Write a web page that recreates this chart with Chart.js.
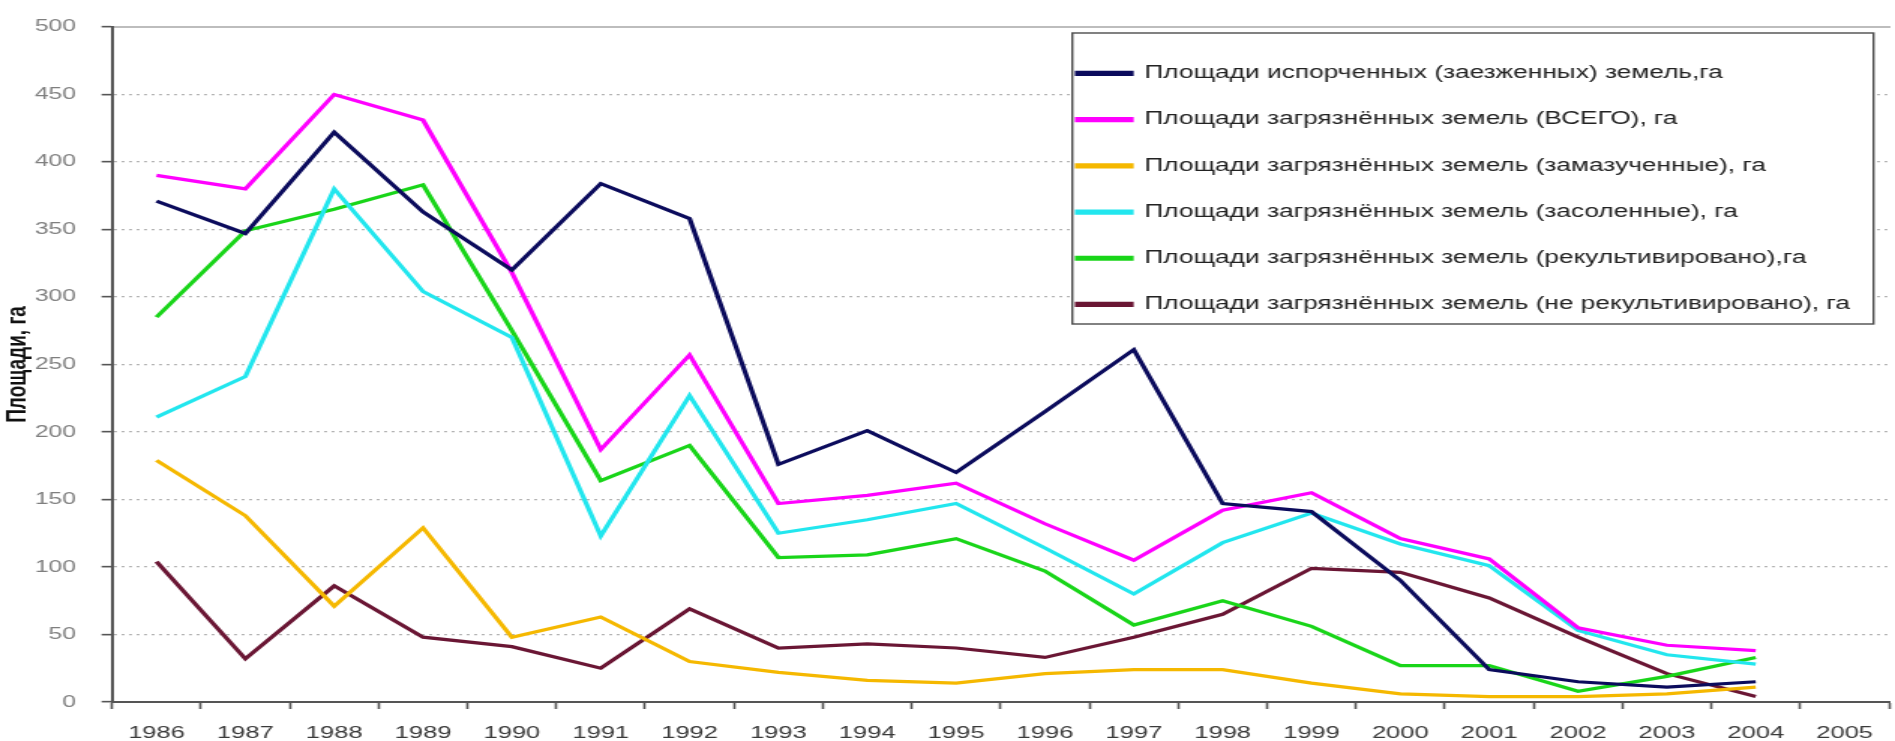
<!DOCTYPE html>
<html lang="ru">
<head>
<meta charset="utf-8">
<title>Площади земель, га</title>
<script src="https://cdn.jsdelivr.net/npm/chart.js@4.4.1/dist/chart.umd.min.js"></script>
<style>
  html, body { margin: 0; padding: 0; background: #fff; overflow: hidden; }
  #chart { display: block; }
</style>
</head>
<body>
<!-- the source picture is stretched sideways ~1.5x, so the canvas is drawn narrow and widened by CSS -->
<canvas id="chart" width="1263" height="741" style="width:1895px;height:741px"></canvas>
<script>
// =============================================================================
// Площади земель, 1986–2005, га
// =============================================================================

const YEARS = ['1986', '1987', '1988', '1989', '1990', '1991', '1992', '1993', '1994', '1995',
  '1996', '1997', '1998', '1999', '2000', '2001', '2002', '2003', '2004', '2005'];

const Y_MIN = 0;
const Y_MAX = 500;
const Y_STEP = 50;

// values per year, 1986..2004 (2005 has no data)
const SPOILED = [371, 347, 422, 363, 320, 384, 358, 176, 201, 170, 215, 261, 147, 141, 90, 24, 15, 11, 15];
const TOTAL = [390, 380, 450, 431, 318, 187, 257, 147, 153, 162, 132, 105, 142, 155, 121, 106, 55, 42, 38];
const OILED = [179, 138, 71, 129, 48, 63, 30, 22, 16, 14, 21, 24, 24, 14, 6, 4, 4, 6, 11];
const SALINE = [211, 241, 380, 304, 270, 123, 227, 125, 135, 147, 114, 80, 118, 140, 117, 101, 53, 35, 28];
const RECLAIMED = [285, 349, 365, 383, 275, 164, 190, 107, 109, 121, 97, 57, 75, 56, 27, 27, 8, 19, 33];
const NOT_RECLAIMED = [104, 32, 86, 48, 41, 25, 69, 40, 43, 40, 33, 48, 65, 99, 96, 77, 48, 21, 4];

const SERIES_LABELS = [
  'Площади испорченных (заезженных) земель,га',
  'Площади загрязнённых земель (ВСЕГО), га',
  'Площади загрязнённых земель (замазученные), га',
  'Площади загрязнённых земель (засоленные), га',
  'Площади загрязнённых земель (рекультивировано),га',
  'Площади загрязнённых земель (не рекультивировано), га',
];
const SERIES_DATA = [SPOILED, TOTAL, OILED, SALINE, RECLAIMED, NOT_RECLAIMED];
const SERIES_COLORS = ['#0b0b5c', '#ff00ff', '#f5b800', '#22e6ee', '#19d519', '#6a1634'];

const Y_TITLE = 'Площади, га';

// layout (canvas px, before the CSS stretch)
const LEGEND_POS = { left: 689.3, top: 36 };
const LEGEND_FRAME = { x: 714.7, y: 33, w: 534, h: 291 };

Chart.defaults.font.family = "'Liberation Sans', Arial, sans-serif";
Chart.defaults.color = '#333';

// legend sits inside the plot, top right, in a white framed box
const legendInPlot = {
  id: 'legendInPlot',
  afterLayout(chart) {
    const lg = chart.legend;
    if (!lg) return;
    lg.left = LEGEND_POS.left;
    lg.top = LEGEND_POS.top;
    lg.right = lg.left + lg.width;
    lg.bottom = chart.chartArea.bottom;
    if (lg._framed) return;
    const drawItems = lg.draw.bind(lg);
    lg.draw = function () {
      const ctx = chart.ctx;
      ctx.save();
      ctx.fillStyle = '#ffffff';
      ctx.fillRect(LEGEND_FRAME.x, LEGEND_FRAME.y, LEGEND_FRAME.w, LEGEND_FRAME.h);
      ctx.strokeStyle = '#4d4d4d';
      ctx.lineWidth = 1.4;
      ctx.strokeRect(LEGEND_FRAME.x, LEGEND_FRAME.y, LEGEND_FRAME.w, LEGEND_FRAME.h);
      ctx.restore();
      drawItems();
    };
    lg._framed = true;
  },
};

const datasets = SERIES_DATA.map((data, i) => ({
  label: SERIES_LABELS[i],
  data: data,
  borderColor: SERIES_COLORS[i],
  backgroundColor: SERIES_COLORS[i],
  borderWidth: 3.2,
  pointRadius: 0,
  pointHoverRadius: 0,
  tension: 0,
  fill: false,
}));

new Chart(document.getElementById('chart'), {
  type: 'line',
  data: { labels: YEARS, datasets },
  plugins: [legendInPlot],
  options: {
    responsive: false,
    devicePixelRatio: 1,
    animation: false,
    events: [],
    layout: { padding: { top: 21, right: 4, left: 0, bottom: 0 } },
    plugins: {
      legend: {
        position: 'chartArea',
        align: 'start',
        labels: {
          boxWidth: 36,
          boxHeight: 2,
          padding: 28.7,
          color: '#222',
          font: { size: 17.5 },
        },
      },
      tooltip: { enabled: false },
    },
    scales: {
      x: {
        type: 'category',
        offset: true,
        grid: {
          offset: true,
          drawOnChartArea: false,
          drawTicks: true,
          tickLength: 7,
          tickColor: '#555',
          tickWidth: 1.6,
        },
        border: { color: '#555', width: 2 },
        ticks: {
          color: '#3a3a3a',
          font: { size: 17 },
          padding: 14,
          maxRotation: 0,
          autoSkip: false,
        },
        afterFit: (s) => { s.height = 39; },
      },
      x2: {
        type: 'category',
        position: 'top',
        offset: true,
        grid: { drawOnChartArea: false, drawTicks: false },
        ticks: { display: false },
        border: { color: '#bdbdbd', width: 2 },
        afterFit: (s) => { s.height = 0; },
      },
      y: {
        min: Y_MIN,
        max: Y_MAX,
        ticks: {
          stepSize: Y_STEP,
          color: '#7f7f7f',
          font: { size: 16.5 },
          padding: 17,
        },
        grid: {
          color: '#b4b4b4',
          lineWidth: 1.3,
          tickColor: '#555',
          tickLength: 7,
          tickWidth: 1.6,
        },
        border: { color: '#555', width: 2, dash: [2, 3] },
        title: {
          display: true,
          text: Y_TITLE,
          color: '#111',
          font: { size: 19, weight: 'bold' },
          padding: { top: 0, bottom: 0 },
        },
        afterFit: (s) => { s.width = 74.7; },
      },
    },
  },
});
</script>
</body>
</html>
